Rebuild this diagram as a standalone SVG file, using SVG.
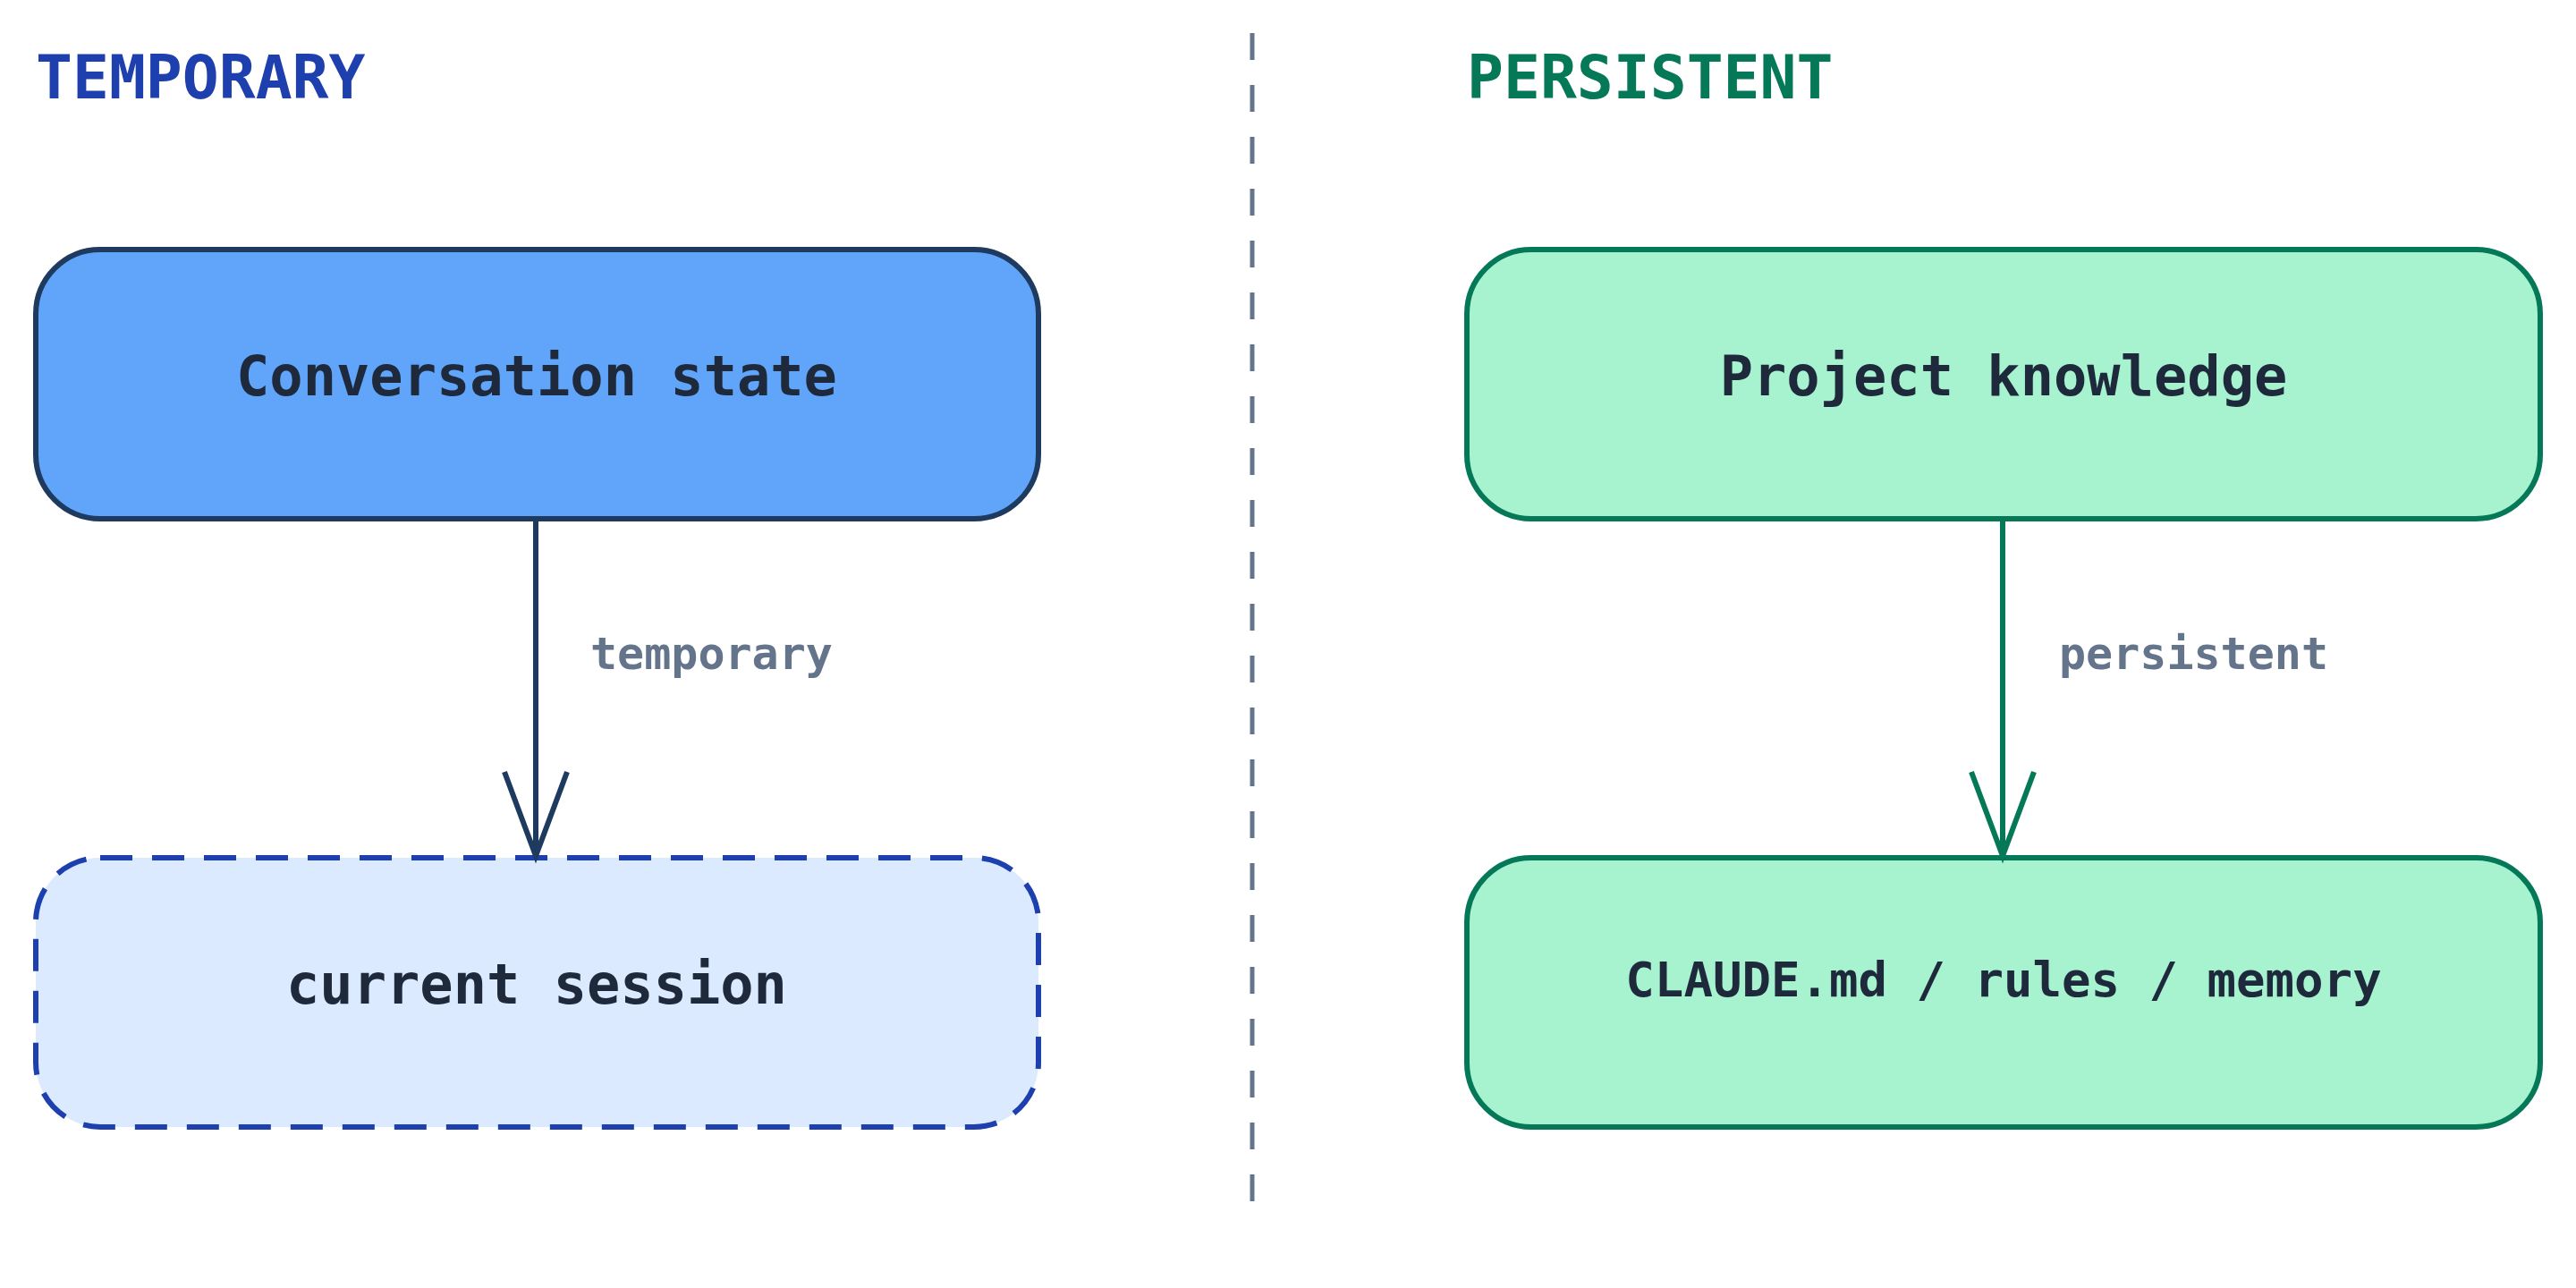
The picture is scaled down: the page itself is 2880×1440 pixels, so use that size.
<svg xmlns="http://www.w3.org/2000/svg" width="2880" height="1440" viewBox="0 0 2880 1440">
<style>
text{font-family:"DejaVu Sans Mono","Liberation Mono",monospace;font-weight:bold;text-anchor:middle}
.h{font-size:68px;text-anchor:start}
.n{font-size:62px;fill:#1e293b}
.l{font-size:50px;fill:#64748b;text-anchor:start}
</style>
<rect width="2880" height="1440" fill="#fff"/>
<line x1="1400" y1="37" x2="1400" y2="1368" stroke="#64748b" stroke-width="5" stroke-dasharray="30,28"/>
<text class="h" x="40" y="110" fill="#1e40af">TEMPORARY</text>
<text class="h" x="1640" y="110" fill="#047857">PERSISTENT</text>
<g id="conv"><rect x="40" y="279" width="1121" height="301" rx="72" fill="#60a5fa" stroke="#1e3a5f" stroke-width="6"/><text class="n" x="600" y="442">Conversation state</text></g>
<g id="session"><rect x="40" y="959" width="1121" height="301" rx="72" fill="#dbeafe" stroke="#1e40af" stroke-width="6" stroke-dasharray="36,22"/><text class="n" x="600" y="1122" fill="#334155">current session</text></g>
<g id="proj"><rect x="1640" y="279" width="1200" height="301" rx="72" fill="#a7f3d0" stroke="#047857" stroke-width="6"/><text class="n" x="2240" y="442">Project knowledge</text></g>
<g id="claude"><rect x="1640" y="959" width="1200" height="301" rx="72" fill="#a7f3d0" stroke="#047857" stroke-width="6"/><text class="n" x="2240" y="1114" style="font-size:54px">CLAUDE.md / rules / memory</text></g>
<g id="connectors" fill="none" stroke-width="6">
<path d="M599 580V957M564 863L599 957L634 863" stroke="#1e3a5f"/>
<path d="M2239 580V957M2204 863L2239 957L2274 863" stroke="#047857"/>
</g>
<text class="l" x="660" y="748">temporary</text>
<text class="l" x="2302" y="748">persistent</text>
</svg>
